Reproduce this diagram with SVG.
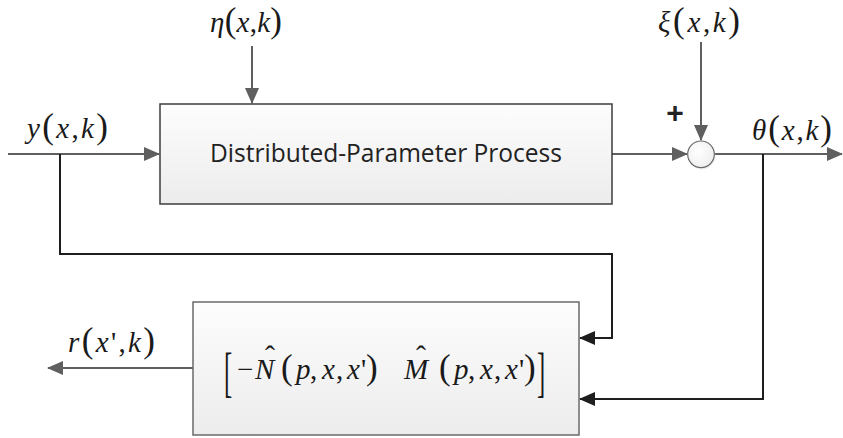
<svg xmlns="http://www.w3.org/2000/svg" width="843" height="438" viewBox="0 0 843 438">
<style>
.g{fill:none;stroke:#5f5f5f;stroke-width:2}
.k{fill:none;stroke:#1e1e1e;stroke-width:2}
.m{font-family:"Liberation Serif","Times New Roman",serif;font-size:29px;fill:#1a1a1a}
.i{font-style:italic}
.p{font-size:35px}
.hat{font-family:"Liberation Serif","Times New Roman",serif;font-size:30px;fill:#1a1a1a}
.br{font-family:"Liberation Serif","Times New Roman",serif;font-size:55px;fill:#1a1a1a}
.lbl{font-family:"Open Sans","Noto Sans",sans-serif;font-size:26px;fill:#222}
</style>
<defs>
<linearGradient id="bg" x1="0" y1="0" x2="0" y2="1">
<stop offset="0" stop-color="#fdfdfd"/>
<stop offset="1" stop-color="#ececec"/>
</linearGradient>
<radialGradient id="cg" cx="0.4" cy="0.4" r="0.7">
<stop offset="0" stop-color="#ffffff"/>
<stop offset="1" stop-color="#ededed"/>
</radialGradient>
<marker id="ag" markerUnits="userSpaceOnUse" markerWidth="16" markerHeight="14" refX="15" refY="7" orient="auto">
<path d="M0,0 L16,7 L0,14 Z" fill="#5f5f5f"/>
</marker>
<marker id="ak" markerUnits="userSpaceOnUse" markerWidth="16" markerHeight="14" refX="15" refY="7" orient="auto">
<path d="M0,0 L16,7 L0,14 Z" fill="#1e1e1e"/>
</marker>
</defs>

<g id="connectors">
<path class="g" d="M8,154 H159" marker-end="url(#ag)"/>
<path class="g" d="M252,46 V103" marker-end="url(#ag)"/>
<path class="g" d="M612,154 H687" marker-end="url(#ag)"/>
<path class="g" d="M701,42 V140" marker-end="url(#ag)"/>
<path class="g" d="M714,154 H842" marker-end="url(#ag)"/>
<path class="k" d="M60,154 V254 H612 V338 H580" marker-end="url(#ak)"/>
<path class="k" d="M763,154 V399 H580" marker-end="url(#ak)"/>
<path class="g" d="M193,368 H48" marker-end="url(#ag)"/>
</g>

<g id="process">
<rect x="160" y="104" width="452" height="100" fill="url(#bg)" stroke="#3c3c3c" stroke-width="1.5"/>
<text class="lbl" x="386" y="162" text-anchor="middle" textLength="352" lengthAdjust="spacingAndGlyphs">Distributed-Parameter Process</text>
</g>

<g id="sum">
<circle cx="702" cy="156" r="13.5" fill="#e4e4e4" opacity="0.6"/>
<circle cx="701" cy="154.3" r="13.3" fill="url(#cg)" stroke="#6a6a6a" stroke-width="1.2"/>
<text x="675" y="123" text-anchor="middle" style="font-family:'Liberation Sans',Arial,sans-serif;font-size:30px;font-weight:bold;fill:#222">+</text>
</g>

<g id="estimator">
<rect x="193" y="302" width="386" height="133" fill="url(#bg)" stroke="#6a6a6a" stroke-width="1.5"/>
<text class="br" x="0" y="0" transform="translate(224 391) scale(0.45 1)">[</text>
<text class="m" y="379"><tspan x="237">−</tspan><tspan class="i" x="255">N</tspan><tspan class="p" x="281">(</tspan><tspan class="i" x="296">p</tspan><tspan x="310">,</tspan><tspan class="i" x="322">x</tspan><tspan x="336">,</tspan><tspan class="i" x="347">x</tspan><tspan x="361">'</tspan><tspan class="p" x="366">)</tspan></text>
<text class="hat" x="270" y="366" text-anchor="middle">ˆ</text>
<text class="m" y="379"><tspan class="i" x="404">M</tspan><tspan class="p" x="439">(</tspan><tspan class="i" x="454">p</tspan><tspan x="468">,</tspan><tspan class="i" x="480">x</tspan><tspan x="494">,</tspan><tspan class="i" x="505">x</tspan><tspan x="519">'</tspan><tspan class="p" x="524">)</tspan></text>
<text class="hat" x="421" y="366" text-anchor="middle">ˆ</text>
<text class="br" x="0" y="0" transform="translate(537 391) scale(0.45 1)">]</text>
</g>

<g id="label-y">
<text class="m" x="27" y="138" textLength="81" lengthAdjust="spacing"><tspan class="i">y</tspan><tspan class="p">(</tspan><tspan class="i">x</tspan>,<tspan class="i">k</tspan><tspan class="p">)</tspan></text>
</g>
<g id="label-eta">
<text class="m" x="210" y="32" textLength="72" lengthAdjust="spacing"><tspan class="i">η</tspan><tspan class="p">(</tspan><tspan class="i">x</tspan>,<tspan class="i">k</tspan><tspan class="p">)</tspan></text>
</g>
<g id="label-xi">
<text class="m" x="658" y="32" textLength="82" lengthAdjust="spacing"><tspan class="i">ξ</tspan><tspan class="p">(</tspan><tspan class="i">x</tspan>,<tspan class="i">k</tspan><tspan class="p">)</tspan></text>
</g>
<g id="label-theta">
<text class="m" x="752" y="140" textLength="80" lengthAdjust="spacing"><tspan class="i">θ</tspan><tspan class="p">(</tspan><tspan class="i">x</tspan>,<tspan class="i">k</tspan><tspan class="p">)</tspan></text>
</g>
<g id="label-r">
<text class="m" x="68" y="352" textLength="87" lengthAdjust="spacing"><tspan class="i">r</tspan><tspan class="p">(</tspan><tspan class="i">x</tspan>',<tspan class="i">k</tspan><tspan class="p">)</tspan></text>
</g>
</svg>
